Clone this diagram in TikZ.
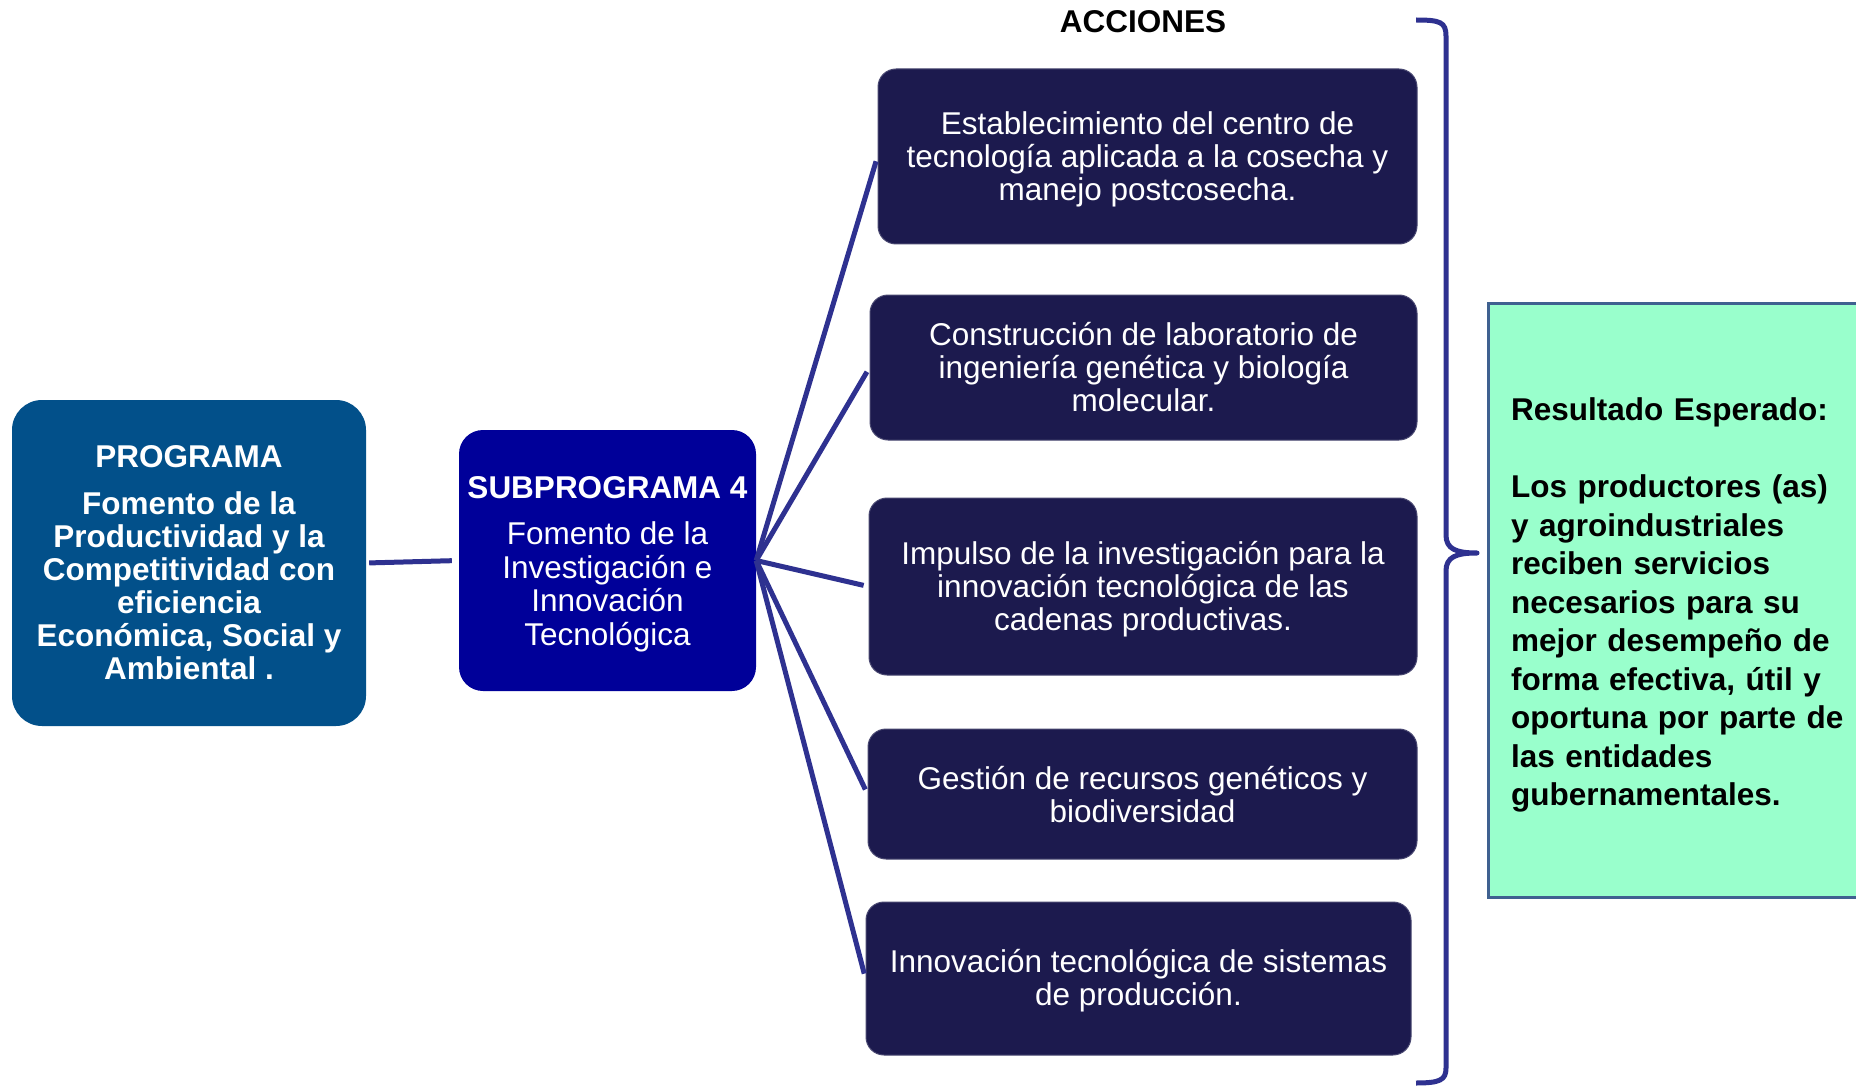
\documentclass[tikz,border=0pt]{standalone}
\usepackage{fontspec}
\setmainfont{Liberation Sans}
\definecolor{actfill}{HTML}{1C1A4E}
\definecolor{progfill}{HTML}{02508A}
\definecolor{subfill}{HTML}{000099}
\definecolor{linecol}{HTML}{2E3190}
\definecolor{resfill}{HTML}{99FFCC}
\definecolor{resborder}{HTML}{3F6190}
\begin{document}
\begin{tikzpicture}[x=1pt,y=-1pt,
  actbox/.style={fill=actfill, draw=actfill!80!white, line width=1pt, rounded corners=18pt, inner sep=0pt},
  acttext/.style={text=white, align=center, inner sep=0pt, yshift=-2.5pt, font=\fontsize{31.5}{33}\selectfont},
  conn/.style={draw=linecol, line width=5pt, shorten >=5pt}]
\clip (0,0) rectangle (1856,1086);
\fill[white] (0,0) rectangle (1856,1086);

% program boxes
\node[fill=progfill, rounded corners=30pt, minimum width=354pt, minimum height=326pt,
  inner sep=0pt, text=white, align=center, font=\bfseries\fontsize{31.5}{33}\selectfont]
  (prog) at (189,563) {PROGRAMA\\[14pt]Fomento de la\\Productividad y la\\Competitividad con\\eficiencia\\Econ\'omica, Social y\\Ambiental .};

\node[fill=subfill, rounded corners=24pt, minimum width=297pt, minimum height=261pt, inner sep=0pt,
  label={[text=white, align=center, inner sep=0pt, yshift=-3.5pt, font=\fontsize{31.5}{33.5}\selectfont]center:{\textbf{SUBPROGRAMA 4}\\[13pt]Fomento de la\\Investigaci\'on e\\Innovaci\'on\\Tecnol\'ogica}}]
  (sub) at (607.5,560.5) {};

% title
\node[font=\bfseries\fontsize{31.5}{33}\selectfont, inner sep=0pt] (acc) at (1143,22) {ACCIONES};

% action boxes
\node[actbox, minimum width=539pt, minimum height=175pt,
  label={[acttext]center:{Establecimiento del centro de\\tecnolog\'ia aplicada a la cosecha y\\manejo postcosecha.}}]
  (a1) at (1147.5,156.5) {};
\node[actbox, minimum width=547pt, minimum height=145pt,
  label={[acttext, yshift=2.5pt]center:{Construcci\'on de laboratorio de\\ingenier\'ia gen\'etica y biolog\'ia\\molecular.}}]
  (a2) at (1143.5,367.5) {};
\node[actbox, minimum width=548pt, minimum height=177pt,
  label={[acttext]center:{Impulso de la investigaci\'on para la\\innovaci\'on tecnol\'ogica de las\\cadenas productivas.}}]
  (a3) at (1143,586.5) {};
\node[actbox, minimum width=549pt, minimum height=130pt,
  label={[acttext, yshift=1.5pt]center:{Gesti\'on de recursos gen\'eticos y\\biodiversidad}}]
  (a4) at (1142.5,794) {};
\node[actbox, minimum width=545pt, minimum height=153pt,
  label={[acttext]center:{Innovaci\'on tecnol\'ogica de sistemas\\de producci\'on.}}]
  (a5) at (1138.5,978.5) {};

% result box
\node[fill=resfill, draw=resborder, line width=3pt, minimum height=594pt, minimum width=392pt, inner sep=0pt,
  label={[text width=344pt, align=left, inner sep=0pt, xshift=-1pt, yshift=-5pt, font=\bfseries\fontsize{31.5}{38.5}\selectfont]center:{Resultado Esperado:\\[38.5pt]Los productores (as)\\y agroindustriales\\reciben servicios\\necesarios para su\\mejor desempe\~no de\\forma efectiva, \'util y\\oportuna por parte de\\las entidades\\gubernamentales.}}]
  (res) at (1684,600) {};

% connectors
\draw[conn, shorten <=3pt, shorten >=7pt] (prog.east) -- (sub.west);
\coordinate (hub) at (sub.east);
\foreach \t in {a1,a2,a3,a4,a5}{
  \draw[conn] (hub) -- (\t.west);
}

% brace
\coordinate (btop) at (1416,20);
\coordinate (btip) at (1477,553);
\coordinate (bbot) at (1416,1083);
\draw[linecol, line width=5pt, line join=round]
  (btop) .. controls (1440,20) and (1446,22) .. (1446,36)
  -- (1446,535) .. controls (1446,549) and (1456,553) .. (btip)
  .. controls (1456,553) and (1446,557) .. (1446,571)
  -- (1446,1068) .. controls (1446,1080) and (1440,1083) .. (bbot);
\end{tikzpicture}
\end{document}
